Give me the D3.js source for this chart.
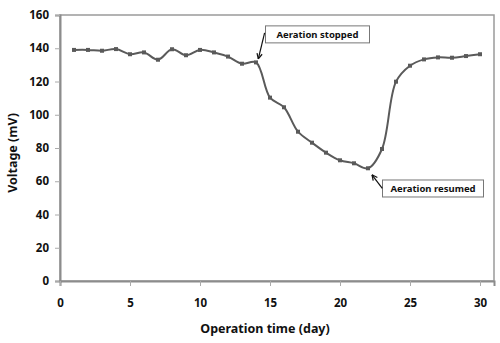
<!DOCTYPE html>
<html>
<head>
<meta charset="utf-8">
<script src="https://cdn.jsdelivr.net/npm/d3@7"></script>
<style>
  body { margin: 0; background: #fff; }
  text { font-family: "Noto Sans", "Open Sans", sans-serif; font-weight: bold; fill: #111; }
</style>
</head>
<body>
<svg id="chart"></svg>
<script>
let days = d3.range(1, 31);
let voltage = [139, 139, 138.5, 139.5, 136.4, 137.5, 133.1, 139.4, 135.8, 139,
    137.5, 135, 130.7, 131.5, 110.3, 104.5, 89.8, 83.2, 77.2, 72.6,
    70.8, 67.8, 79.4, 119.9, 129.5, 133.3, 134.5, 134.3, 135.3, 136.4];
let xTicks = [0, 5, 10, 15, 20, 25, 30];
let yTicks = [0, 20, 40, 60, 80, 100, 120, 140, 160];
let noteDays = [14, 22];
let noteLabels = ["Aeration stopped", "Aeration resumed"];

let margin = {top: 15, right: 6, bottom: 62, left: 60},
    width = 500 - margin.left - margin.right,
    height = 343 - margin.top - margin.bottom;

let svg = d3.select("#chart")
        .attr("width", 500)
        .attr("height", 343),
    g = svg.append("g")
        .attr("transform", "translate(" + margin.left + "," + margin.top + ")");

let x = d3.scaleLinear().domain([0, 31]).range([0, width]);
let y = d3.scaleLinear().domain([0, 160]).range([height, 0]);

// plot border
g.append("rect")
    .attr("width", width)
    .attr("height", height)
    .attr("fill", "none")
    .attr("stroke", "#9a9a9a")
    .attr("stroke-width", 1.5);

let yAxis = g.append("g")
    .call(d3.axisLeft(y).tickValues(yTicks).tickSize(5).tickPadding(6));
yAxis.select(".domain").attr("stroke", "#8c8c8c").attr("stroke-width", 2);
yAxis.selectAll(".tick line").attr("stroke", "#aaa");
yAxis.selectAll("text").style("font-size", "11.5px");

let xAxis = g.append("g")
    .attr("transform", "translate(0," + height + ")")
    .call(d3.axisBottom(x).tickValues(xTicks).tickSize(5).tickPadding(13));
xAxis.select(".domain").attr("stroke", "#8c8c8c").attr("stroke-width", 2);
xAxis.selectAll(".tick line").attr("stroke", "#aaa");
xAxis.selectAll("text").style("font-size", "11.5px");

let line = d3.line()
    .x((d, i) => x(days[i]))
    .y(d => y(d))
    .curve(d3.curveCatmullRom.alpha(0.5));

g.append("path")
    .datum(voltage)
    .attr("fill", "none")
    .attr("stroke", "#5a5a5a")
    .attr("stroke-width", 2)
    .attr("d", line);

g.selectAll(".pt")
    .data(voltage)
    .enter()
    .append("rect")
    .classed("pt", true)
    .attr("x", (d, i) => x(days[i]) - 2)
    .attr("y", d => y(d) - 2)
    .attr("width", 4)
    .attr("height", 4)
    .attr("fill", "#5a5a5a");

// callout placement relative to the marked point: box offset, box width, arrow start & end offsets
let calloutStyle = [
    {bx: 9.5, by: -36.5, bw: 104, sx: 8.6, sy: -29.5, ex: 2.3, ey: -3.5},
    {bx: 14.5, by: 11.7, bw: 101, sx: 14.3, sy: 20, ex: 4, ey: 6.5}
];

noteDays.forEach((day, k) => {
    let c = calloutStyle[k];
    let px = x(day), py = y(voltage[days.indexOf(day)]);
    let ng = g.append("g");
    ng.append("rect")
        .attr("x", px + c.bx)
        .attr("y", py + c.by)
        .attr("width", c.bw)
        .attr("height", 17)
        .attr("fill", "#fff")
        .attr("stroke", "#777");
    ng.append("text")
        .attr("x", px + c.bx + c.bw / 2)
        .attr("y", py + c.by + 12)
        .attr("text-anchor", "middle")
        .style("font-size", "9.5px")
        .text(noteLabels[k]);
    let sx = px + c.sx, sy = py + c.sy, ex = px + c.ex, ey = py + c.ey;
    ng.append("line")
        .attr("x1", sx).attr("y1", sy).attr("x2", ex).attr("y2", ey)
        .attr("stroke", "#111").attr("stroke-width", 1.2);
    let ang = Math.atan2(sy - ey, sx - ex);
    [0.45, -0.45].forEach(a => {
        ng.append("line")
            .attr("x1", ex).attr("y1", ey)
            .attr("x2", ex + 6 * Math.cos(ang + a))
            .attr("y2", ey + 6 * Math.sin(ang + a))
            .attr("stroke", "#111").attr("stroke-width", 1.2);
    });
});

svg.append("text")
    .attr("x", margin.left + x(15) - 5)
    .attr("y", 333)
    .attr("text-anchor", "middle")
    .style("font-size", "12.5px")
    .text("Operation time (day)");

svg.append("text")
    .attr("transform", "translate(17," + (margin.top + height / 2 + 5) + ") rotate(-90)")
    .attr("text-anchor", "middle")
    .style("font-size", "12.5px")
    .text("Voltage (mV)");
</script>
</body>
</html>
